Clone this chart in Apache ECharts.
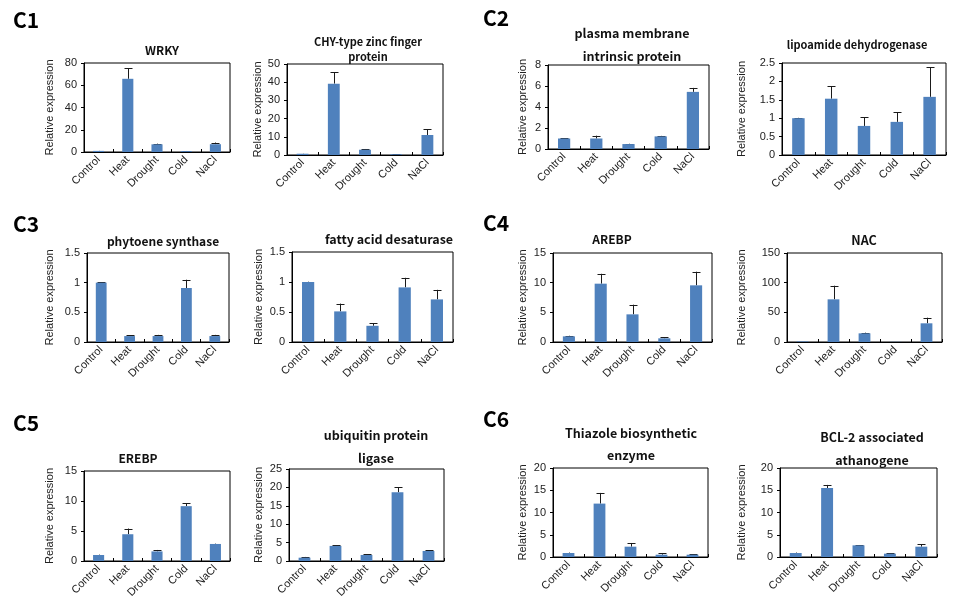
<!DOCTYPE html>
<html><head><meta charset="utf-8">
<script src="https://cdn.jsdelivr.net/npm/echarts@6/dist/echarts.min.js"></script>
<style>html,body{margin:0;padding:0;background:#fff}#c{width:956px;height:609px}</style>
</head><body><div id="c"></div>
<script>
// ---- data ----
const categories = ['Control', 'Heat', 'Drought', 'Cold', 'NaCl'];

const wrkyMean = [1.0, 65.8, 6.9, 0.8, 7.0];
const wrkySd   = [0.1, 9.7, 0.6, 0.1, 1.5];
const chyMean  = [0.7, 39.2, 2.9, 0.4, 11.0];
const chySd    = [0.1, 6.4, 0.4, 0.1, 3.2];
const pmipMean = [1.0, 1.0, 0.47, 1.2, 5.44];
const pmipSd   = [0.03, 0.27, 0.03, 0.05, 0.38];
const lipoMean = [1.0, 1.53, 0.79, 0.9, 1.58];
const lipoSd   = [0.01, 0.34, 0.24, 0.26, 0.81];
const psyMean  = [1.0, 0.1, 0.1, 0.91, 0.1];
const psySd    = [0.01, 0.01, 0.02, 0.14, 0.02];
const fadMean  = [1.0, 0.51, 0.27, 0.91, 0.71];
const fadSd    = [0.005, 0.13, 0.04, 0.16, 0.16];
const arebpMean = [0.95, 9.83, 4.66, 0.62, 9.55];
const arebpSd   = [0.1, 1.67, 1.63, 0.22, 2.3];
const nacMean  = [1.0, 71.9, 14.6, 0.3, 31.5];
const nacSd    = [0, 23.0, 1.1, 0, 9.5];
const erebpMean = [1.0, 4.46, 1.6, 9.14, 2.84];
const erebpSd   = [0.06, 0.95, 0.24, 0.45, 0.06];
const ubqMean  = [0.9, 4.1, 1.64, 18.7, 2.73];
const ubqSd    = [0.2, 0.2, 0.16, 1.4, 0.17];
const thiMean  = [0.9, 12.0, 2.32, 0.52, 0.52];
const thiSd    = [0.1, 2.4, 0.83, 0.38, 0.15];
const bclMean  = [0.9, 15.5, 2.62, 0.75, 2.32];
const bclSd    = [0.1, 0.7, 0.08, 0.07, 0.6];

const titles = ['WRKY', 'CHY-type zinc finger\nprotein', 'plasma membrane\nintrinsic protein', 'lipoamide dehydrogenase',
  'phytoene synthase', 'fatty acid desaturase', 'AREBP', 'NAC',
  'EREBP', 'ubiquitin protein\nligase', 'Thiazole biosynthetic\nenzyme', 'BCL-2 associated\nathanogene'];
const yMax = [80, 50, 8, 2.5, 1.5, 1.5, 15, 150, 15, 25, 20, 20];
const yStep = [20, 10, 2, 0.5, 0.5, 0.5, 5, 50, 5, 5, 5, 5];
const groupLabels = ['C1', 'C2', 'C3', 'C4', 'C5', 'C6'];
const yName = 'Relative expression';

const means = [wrkyMean, chyMean, pmipMean, lipoMean, psyMean, fadMean, arebpMean, nacMean, erebpMean, ubqMean, thiMean, bclMean];
const sds = [wrkySd, chySd, pmipSd, lipoSd, psySd, fadSd, arebpSd, nacSd, erebpSd, ubqSd, thiSd, bclSd];

// ---- layout (pixels) ----
const gridBox = [
  [84, 63, 146, 89], [287, 64, 156, 91], [548, 65, 161, 84], [782, 63, 164, 92],
  [87, 253, 142, 89], [292, 252, 161, 90], [553, 253, 159, 89], [787, 253, 155, 89],
  [84, 471, 146, 90], [289, 469, 155, 92], [553, 468, 155, 89], [780, 468, 157, 89]
];
const titlePos = [
  [162, 50, 15, 12], [368, 49.5, 15, 11], [632, 44.5, 23, 12.5], [857, 45, 15, 11],
  [163, 241, 15, 12], [389, 239, 15, 12.5], [612, 239, 15, 12], [864, 240, 15, 12.5],
  [138, 458, 15, 12], [376, 446.5, 23, 12.5], [631, 444, 22, 12.5], [872, 448.5, 23, 12.5]
];
const nameDist = [35, 30, 26, 41, 38, 34, 31, 46, 35, 31, 31, 39];
const groupPos = [[13, 20], [483, 18], [13, 224], [483, 223], [13, 423], [483, 419]];

const grid = [], xAxis = [], yAxis = [], series = [], graphic = [];
const font = 'Liberation Sans, Arial, sans-serif';
const titleFont = 'Noto Sans CJK KR, Liberation Sans, sans-serif';

for (let i = 0; i < 12; i++) {
  const g = gridBox[i];
  grid.push({left: g[0], top: g[1], width: g[2], height: g[3], show: true, borderColor: '#000', borderWidth: 1, backgroundColor: 'transparent'});
  xAxis.push({
    type: 'category', gridIndex: i, data: categories,
    axisLine: {lineStyle: {color: '#000', width: 1}},
    axisTick: {show: true, inside: true, length: 3, lineStyle: {color: '#000'}},
    axisLabel: {rotate: 45, fontSize: 11, color: '#222', fontFamily: font, margin: 6, interval: 0}
  });
  yAxis.push({
    type: 'value', gridIndex: i, min: 0, max: yMax[i], interval: yStep[i],
    name: yName, nameLocation: 'middle', nameRotate: 90, nameGap: nameDist[i] - 6,
    nameTextStyle: {fontSize: 11, color: '#222', fontFamily: font},
    axisLine: {show: true, lineStyle: {color: '#000', width: 1}},
    axisTick: {show: true, length: 3, lineStyle: {color: '#000'}},
    splitLine: {show: false},
    axisLabel: {fontSize: 11, color: '#222', fontFamily: font, margin: 7}
  });
  series.push({
    type: 'bar', xAxisIndex: i, yAxisIndex: i, data: means[i], barWidth: '38%',
    itemStyle: {color: '#4F81BD'}, silent: true
  });
  series.push({
    type: 'custom', xAxisIndex: i, yAxisIndex: i, silent: true,
    encode: {x: 0, y: [1, 2]},
    data: means[i].map((m, k) => [k, m, m + sds[i][k]]),
    renderItem: function (params, api) {
      const x = api.value(0), v0 = api.value(1), v1 = api.value(2);
      if (v1 - v0 <= 0) return null;
      const p0 = api.coord([x, v0]), p1 = api.coord([x, v1]);
      const hw = 4;
      const st = {stroke: '#1a1a1a', lineWidth: 1};
      return {type: 'group', children: [
        {type: 'line', shape: {x1: Math.round(p0[0]) + 0.5, y1: p0[1], x2: Math.round(p1[0]) + 0.5, y2: p1[1]}, style: st},
        {type: 'line', shape: {x1: Math.round(p1[0]) + 0.5 - hw, y1: Math.round(p1[1]) + 0.5, x2: Math.round(p1[0]) + 0.5 + hw, y2: Math.round(p1[1]) + 0.5}, style: st}
      ]};
    }
  });
  const t = titlePos[i];
  graphic.push({type: 'text', x: t[0], y: t[1], silent: true,
    style: {text: titles[i], align: 'center', verticalAlign: 'middle', lineHeight: t[2],
      fontSize: t[3], fontWeight: 'bold', fontFamily: titleFont, fill: '#111'}});
}
groupLabels.forEach((lab, j) => {
  graphic.push({type: 'text', x: groupPos[j][0], y: groupPos[j][1], silent: true,
    style: {text: lab, align: 'left', verticalAlign: 'middle', fontSize: 21, fontWeight: 'bold', fontFamily: titleFont, fill: '#000'}});
});

const chart = echarts.init(document.getElementById('c'), null, {renderer: 'canvas'});
chart.setOption({animation: false, backgroundColor: '#fff', grid, xAxis, yAxis, series, graphic});
</script>
</body></html>
